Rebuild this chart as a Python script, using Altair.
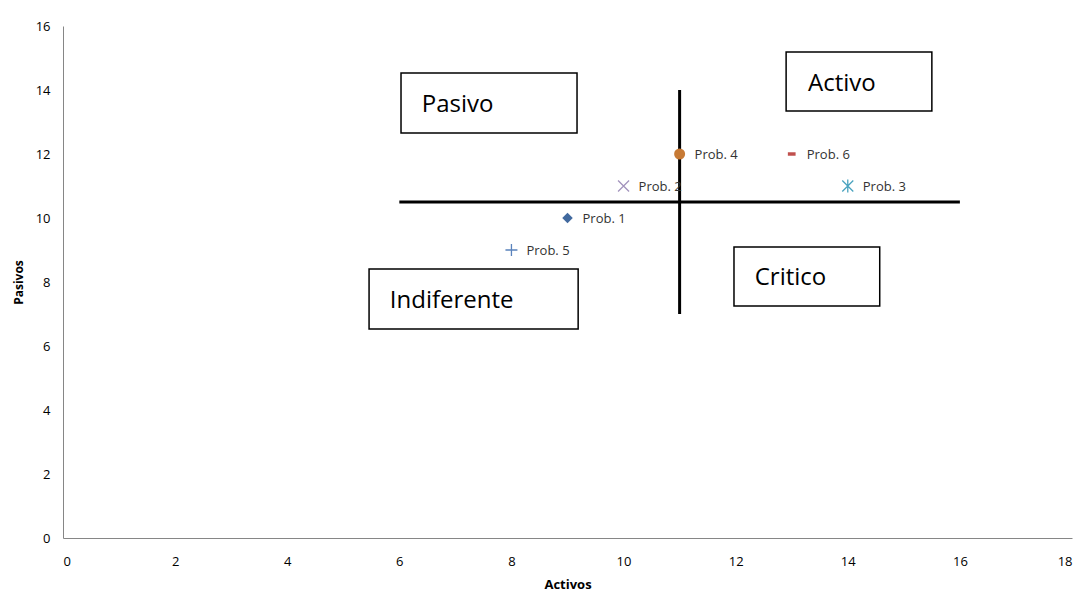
import altair as alt
import pandas as pd

# Points
labels = ["Prob. 1", "Prob. 2", "Prob. 3", "Prob. 4", "Prob. 5", "Prob. 6"]
activos = [9, 10, 14, 11, 8, 13]
pasivos = [10, 11, 11, 12, 9, 12]
colors = ["#41699e", "#a394bd", "#4aa3bf", "#c77a35", "#5a83bc", "#c0504d"]
shapes = [
    "M-1,0L0,-1L1,0L0,1Z",
    "M-1,-1L1,1M-1,1L1,-1",
    "M-1,-1L1,1M-1,1L1,-1M0,-1.2L0,1.2",
    "circle",
    "M-1,0L1,0M0,-1L0,1",
    "M-1,-0.45L1,-0.45L1,0.45L-1,0.45Z",
]
filled = [True, False, False, True, False, True]
sizes = [110, 121, 121, 121, 144, 60]

# Quadrant lines
h_x = [6, 16]
h_y = [10.5]
v_x = [11]
v_y = [7, 14]

# Quadrant boxes
box_names = ["Pasivo", "Activo", "Critico", "Indiferente"]
box_x1 = [6.03, 12.9, 11.97, 5.46]
box_x2 = [9.17, 15.5, 14.57, 9.19]
box_y1 = [12.66, 13.34, 7.25, 6.53]
box_y2 = [14.53, 15.19, 9.09, 8.41]
text_x = [6.40, 13.29, 12.34, 5.83]
text_y = [13.53, 14.2, 8.14, 7.42]

pts = pd.DataFrame({"x": activos, "y": pasivos, "label": labels, "color": colors,
                    "shape": shapes, "filled": filled, "size": sizes})
boxes = pd.DataFrame({"name": box_names, "x1": box_x1, "x2": box_x2, "y1": box_y1,
                      "y2": box_y2, "tx": text_x, "ty": text_y})
hline = pd.DataFrame({"x": [h_x[0]], "x2": [h_x[1]], "y": h_y})
vline = pd.DataFrame({"x": v_x, "y": [v_y[0]], "y2": [v_y[1]]})

FONT = "Open Sans"
xs = alt.Scale(domain=[0, 18], nice=False, zero=False)
ys = alt.Scale(domain=[0, 16], nice=False, zero=False)

xaxis = alt.Axis(title="Activos", values=list(range(0, 19, 2)), format="d", grid=False,
                 ticks=False, tickSize=0, domainColor="#868686", domainWidth=1,
                 labelFont=FONT, labelFontSize=13, labelColor="#000000", labelPadding=17,
                 titleFont=FONT, titleFontSize=13, titleFontWeight="bold",
                 titleColor="#000000", titlePadding=10)
yaxis = alt.Axis(title="Pasivos", values=list(range(0, 17, 2)), format="d", grid=False,
                 ticks=False, tickSize=0, domainColor="#868686", domainWidth=1,
                 labelFont=FONT, labelFontSize=13, labelColor="#000000", labelPadding=13,
                 titleFont=FONT, titleFontSize=12, titleFontWeight="bold",
                 titleColor="#000000", titlePadding=10)

base_axes = alt.Chart(pts).mark_point(opacity=0).encode(
    x=alt.X("x:Q", scale=xs, axis=xaxis),
    y=alt.Y("y:Q", scale=ys, axis=yaxis),
)

h = alt.Chart(hline).mark_rule(color="#000000", strokeWidth=3).encode(
    x=alt.X("x:Q", scale=xs), x2="x2:Q", y=alt.Y("y:Q", scale=ys))
v = alt.Chart(vline).mark_rule(color="#000000", strokeWidth=3).encode(
    x=alt.X("x:Q", scale=xs), y=alt.Y("y:Q", scale=ys), y2="y2:Q")

rects = alt.Chart(boxes).mark_rect(fill="#ffffff", stroke="#000000", strokeWidth=1.5).encode(
    x=alt.X("x1:Q", scale=xs), x2="x2:Q", y=alt.Y("y1:Q", scale=ys), y2="y2:Q")
box_text = alt.Chart(boxes).mark_text(font=FONT, fontSize=24, align="left",
                                      baseline="middle", color="#000000").encode(
    x=alt.X("tx:Q", scale=xs), y=alt.Y("ty:Q", scale=ys), text="name:N")

filled_pts = alt.Chart(pts).transform_filter("datum.filled").mark_point(
    filled=True, opacity=1, strokeWidth=0).encode(
    x=alt.X("x:Q", scale=xs), y=alt.Y("y:Q", scale=ys),
    shape=alt.Shape("shape:N", scale=None),
    color=alt.Color("color:N", scale=None),
    size=alt.Size("size:Q", scale=None))
stroke_pts = alt.Chart(pts).transform_filter("!datum.filled").mark_point(
    filled=False, opacity=1, strokeWidth=1.3).encode(
    x=alt.X("x:Q", scale=xs), y=alt.Y("y:Q", scale=ys),
    shape=alt.Shape("shape:N", scale=None),
    color=alt.Color("color:N", scale=None),
    size=alt.Size("size:Q", scale=None))

pt_labels = alt.Chart(pts).mark_text(font=FONT, fontSize=13, align="left", baseline="middle",
                                     dx=15, dy=1, color="#333333").encode(
    x=alt.X("x:Q", scale=xs), y=alt.Y("y:Q", scale=ys), text="label:N")

chart = alt.layer(base_axes, rects, box_text, h, v, filled_pts, stroke_pts, pt_labels).properties(
    width=1009, height=512,
    autosize=alt.AutoSizeParams(type="none"),
    padding={"left": 55, "top": 18, "right": 12, "bottom": 60},
).configure(background="#ffffff").configure_view(stroke=None)

chart.save("out.html", embed_options={"renderer": "svg", "actions": False})
